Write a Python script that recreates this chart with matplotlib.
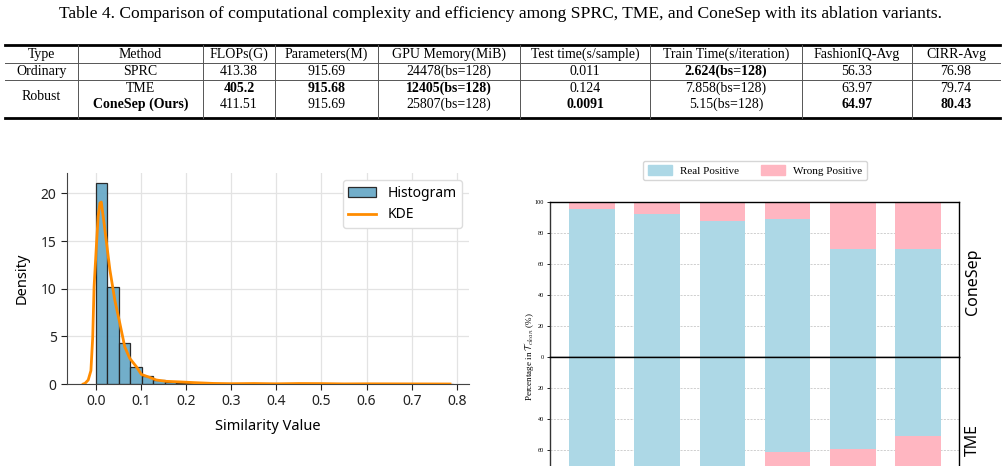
import numpy as np
import matplotlib
matplotlib.use("Agg")
import matplotlib.pyplot as plt
from matplotlib.lines import Line2D
from matplotlib.patches import Patch
from matplotlib.ticker import FixedLocator

plt.rcParams["mathtext.fontset"] = "cm"

W, H = 1003, 466

# ---------------- table data ----------------
caption = ("Table 4. Comparison of computational complexity and efficiency among SPRC, TME, "
           "and ConeSep with its ablation variants.")
table_header = ["Type", "Method", "FLOPs(G)", "Parameters(M)", "GPU Memory(MiB)",
                "Test time(s/sample)", "Train Time(s/iteration)", "FashionIQ-Avg", "CIRR-Avg"]
method_types = ["Ordinary", "Robust"]
methods = ["SPRC", "TME", "ConeSep (Ours)"]
flops = ["413.38", "405.2", "411.51"]
params = ["915.69", "915.68", "915.69"]
gpu_mem = ["24478(bs=128)", "12405(bs=128)", "25807(bs=128)"]
test_time = ["0.011", "0.124", "0.0091"]
train_time = ["2.624(bs=128)", "7.858(bs=128)", "5.15(bs=128)"]
fiq_avg = ["56.33", "63.97", "64.97"]
cirr_avg = ["76.98", "79.74", "80.43"]
# (row, column) of bold cells
bold_cells = {(0, 6), (1, 2), (1, 3), (1, 4), (2, 1), (2, 5), (2, 7), (2, 8)}

# ---------------- histogram data ----------------
bin_width = 0.0255
hist_density = [21.1, 10.2, 4.3, 1.8, 0.83, 0.42, 0.25, 0.15, 0.08, 0.05, 0.04,
                0.03, 0.05, 0.03, 0.04, 0.02, 0.03, 0.05, 0.04, 0.03, 0.02, 0.01,
                0.02, 0.01, 0.02, 0.01, 0.01, 0.02, 0.01, 0.01, 0.01]
kde_x = [-0.028, -0.024, -0.017, -0.011, -0.007, -0.004, 0.0015, 0.005, 0.009, 0.012,
         0.02, 0.031, 0.042, 0.053, 0.064, 0.075, 0.09, 0.101, 0.119, 0.134, 0.156,
         0.186, 0.22, 0.26, 0.3, 0.35, 0.4, 0.45, 0.5, 0.55, 0.6, 0.7, 0.785]
kde_y = [0.0, 0.07, 0.42, 1.4, 4.9, 10.2, 14.8, 17.6, 19.0, 19.1,
         16.2, 12.0, 8.8, 6.4, 3.9, 2.7, 1.8, 1.0, 0.7, 0.42, 0.28,
         0.22, 0.14, 0.06, 0.03, 0.05, 0.02, 0.05, 0.04, 0.01, 0.02, 0.01, 0.0]

# ---------------- stacked bar data ----------------
conesep_real = [95.3, 92.3, 87.6, 88.7, 69.5, 69.5]
tme_real = [82.0, 80.0, 76.0, 61.0, 59.5, 50.9]


def fx(px):
    return px / W


def fy(py):
    return 1 - py / H


fig = plt.figure(figsize=(W / 100, H / 100), dpi=100)

# ---------------- table ----------------
serif = "Liberation Serif"
fig.text(fx(501), fy(14), caption, ha="center", va="center", family=serif, fontsize=12.6)

col_sep = [78, 203, 275, 378, 520, 650, 802, 912]
edges = [5] + col_sep + [1000]
col_mid = [(edges[i] + edges[i + 1]) / 2 for i in range(len(edges) - 1)]
row_y = [71.5, 88, 104.5]

for x0, x1, y, lw, c in [(5, 1000, 45, 2.0, "black"), (5, 1000, 63, 0.7, "#555555"),
                         (5, 1000, 80, 0.7, "#555555"), (5, 1000, 118, 2.0, "black")]:
    fig.add_artist(Line2D([fx(x0), fx(x1)], [fy(y), fy(y)], lw=lw, color=c))
for xs in col_sep:
    fig.add_artist(Line2D([fx(xs), fx(xs)], [fy(45), fy(118)], lw=0.7, color="#555555"))

for j, h in enumerate(table_header):
    fig.text(fx(col_mid[j]), fy(54.5), h, ha="center", va="center", family=serif, fontsize=10)

fig.text(fx(col_mid[0]), fy(row_y[0]), method_types[0], ha="center", va="center",
         family=serif, fontsize=10)
fig.text(fx(col_mid[0]), fy(96), method_types[1], ha="center", va="center",
         family=serif, fontsize=10)

columns = [methods, flops, params, gpu_mem, test_time, train_time, fiq_avg, cirr_avg]
for i in range(len(methods)):
    for j, col in enumerate(columns, start=1):
        fig.text(fx(col_mid[j]), fy(row_y[i]), col[i], ha="center", va="center", family=serif,
                 fontsize=10, weight="bold" if (i, j) in bold_cells else "normal")

# ---------------- histogram ----------------
sans = ["Noto Sans", "DejaVu Sans"]
ax = fig.add_axes([fx(67), fy(384), fx(469) - fx(67), fy(173) - fy(384)])
lefts = np.arange(len(hist_density)) * bin_width
bars = ax.bar(lefts, hist_density, width=bin_width, align="edge", color="#6aaac8",
              edgecolor="#222222", linewidth=0.9, alpha=0.95, label="Histogram", zorder=2)
line, = ax.plot(kde_x, kde_y, color="#ff8c00", lw=2, label="KDE", zorder=3)
ax.set_xlim(-0.064, 0.827)
ax.set_ylim(0, 22.15)
ax.set_xticks(np.arange(0, 0.81, 0.1))
ax.set_yticks([0, 5, 10, 15, 20])
ax.grid(True, color="#e3e3e3", lw=0.9, zorder=0)
ax.set_axisbelow(True)
for s in ["top", "right"]:
    ax.spines[s].set_visible(False)
for s in ["left", "bottom"]:
    ax.spines[s].set_color("#444444")
ax.tick_params(colors="#222222", labelsize=10, length=4)
for lab in ax.get_xticklabels() + ax.get_yticklabels():
    lab.set_family(sans)
ax.set_xlabel("Similarity Value", family=sans, fontsize=10.5, labelpad=7)
ax.set_ylabel("Density", family=sans, fontsize=10.5, labelpad=8)
ax.legend([bars, line], ["Histogram", "KDE"], loc="upper right",
          prop={"family": sans, "size": 10}, framealpha=1, edgecolor="#dddddd",
          handlelength=2.0, handletextpad=0.8)

# ---------------- stacked bars ----------------
xpos = np.arange(len(conesep_real))
left, right = fx(550), fx(959)
zero = fy(357)
h = fy(201.7) - zero
ax_top = fig.add_axes([left, zero, right - left, h])
ax_bot = fig.add_axes([left, zero - h, right - left, h])

blue, pink = "#add8e6", "#ffb6c1"
ax_top.bar(xpos, conesep_real, width=0.7, color=blue, zorder=2)
ax_top.bar(xpos, 100 - np.array(conesep_real), bottom=conesep_real, width=0.7, color=pink, zorder=2)
ax_bot.bar(xpos, tme_real, width=0.7, color=blue, zorder=2)
ax_bot.bar(xpos, 100 - np.array(tme_real), bottom=tme_real, width=0.7, color=pink, zorder=2)

ax_top.set_ylim(0, 100)
ax_bot.set_ylim(100, 0)
ax_top.yaxis.set_major_locator(FixedLocator([0, 20, 40, 60, 80, 100]))
ax_bot.yaxis.set_major_locator(FixedLocator([20, 40, 60]))
for a in (ax_top, ax_bot):
    a.set_xlim(-0.644, 5.63)
    a.set_xticks([])
    a.grid(True, axis="y", ls=(0, (2.5, 1.5)), color="#c8c8c8", lw=0.6, zorder=0)
    a.set_axisbelow(True)
    a.tick_params(axis="y", labelsize=4.5, length=2.5, width=0.6, pad=2)
    for lab in a.get_yticklabels():
        lab.set_family(serif)
    for s in a.spines.values():
        s.set_color("black")
        s.set_linewidth(1.0)
    a.spines["left"].set_color("#333333")
ax_bot.spines["bottom"].set_visible(False)

fig.text(fx(529), fy(357), r"Percentage in $\mathcal{T}_{clean}$ (%)", rotation=90,
         ha="center", va="center", family=serif, fontsize=6.5)
fig.text(fx(973), fy(282), "ConeSep", rotation=90, ha="center", va="center",
         family=sans, fontsize=11.5)
fig.text(fx(973), fy(440), "TME", rotation=90, ha="center", va="center",
         family=sans, fontsize=11.5)

handles = [Patch(color=blue, label="Real Positive"), Patch(color=pink, label="Wrong Positive")]
fig.legend(handles=handles, loc="center", bbox_to_anchor=(fx(755), fy(170.5)), ncol=2,
           prop={"family": serif, "size": 8}, frameon=True, edgecolor="#cccccc",
           handlelength=2.2, handleheight=0.9, handletextpad=0.7, columnspacing=2.0,
           borderpad=0.4)

fig.savefig("out.png", dpi=100)
